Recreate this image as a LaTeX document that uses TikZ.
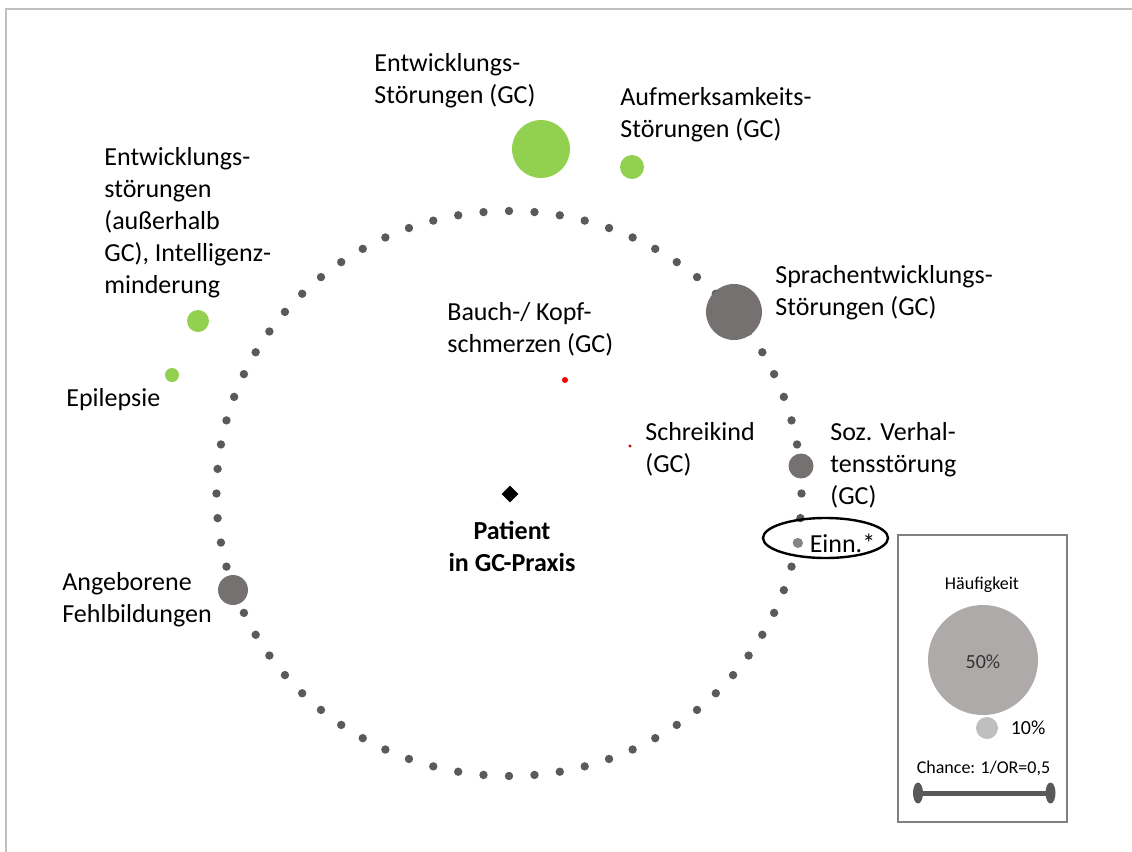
\documentclass[tikz,border=0pt]{standalone}
\usepackage{fontspec}
\setmainfont{Carlito}
\usetikzlibrary{positioning}
\usetikzlibrary{shapes.geometric}
\definecolor{dotgray}{HTML}{5A5A5A}
\definecolor{bubblegray}{HTML}{767171}
\definecolor{einngray}{HTML}{858585}
\definecolor{paleblob}{HTML}{AEAAAA}
\definecolor{lightblob}{HTML}{BFBFBF}
\definecolor{lightgreen}{HTML}{92D050}
\definecolor{framegray}{HTML}{BFBFBF}
\definecolor{boxgray}{HTML}{808080}
\definecolor{bargray}{HTML}{595959}
\definecolor{darkred}{HTML}{C00000}
\tikzset{
  bubble/.style={
    circle,
    inner sep=0,
    minimum size=#1,
  },
  ringdot/.style={
    bubble=4.2pt,
    fill=dotgray,
  },
  finding/.style={
    bubble=#1,
    fill=bubblegray,
  },
  greenfinding/.style={
    bubble=#1,
    fill=lightgreen,
  },
  caption/.style={
    inner sep=0,
    align=left,
    anchor=north west,
    font=\fontsize{13}{16}\selectfont,
  },
  legendtext/.style={
    inner sep=0,
    font=\fontsize{9}{11}\selectfont,
  },
  barend/.style={
    ellipse,
    fill=bargray,
    inner sep=0,
    minimum width=5pt,
    minimum height=10.5pt,
  }
}

\begin{document}
\begin{tikzpicture}[x=0.5pt,y=-0.5pt]
  \useasboundingbox (0,0) rectangle (1132,852);
  \draw [framegray, line width=1pt] (6,852) -- (6,9) -- (1132,9);

  % ring of dots round the patient
  \foreach \a in {0,5,...,355}
    \node (dot\a) [ringdot] at ({509+292.5*cos(\a)},{493.5-282.5*sin(\a)}) {};

  \node (entw gc)   [greenfinding=29pt] at (541,149) {};
  \node (aufm)      [greenfinding=12pt] at (632,167) {};
  \node (entw ext)  [greenfinding=11pt] at (198,321) {};
  \node (epilepsie) [greenfinding=7pt]  at (172,375) {};
  \node (sprache)   [finding=28pt]      at (734,312) {};
  \node (soz)       [finding=12.5pt]    at (801,466) {};
  \node (angeboren) [finding=15pt]      at (233,590) {};
  \node (einn)      [bubble=5pt, fill=einngray] at (798,543) {};
  \node (bauch)     [bubble=3pt, fill=red]      at (565,380) {};
  \node (schrei)    [bubble=1.6pt, fill=darkred] at (630,446) {};
  \node (patient)   [diamond, fill=black, inner sep=0, minimum size=8.5pt] at (510,494) {};

  \node (entw gc label)   [caption] at (374,53)  {Entwicklungs-\\Störungen (GC)};
  \node (aufm label)      [caption] at (620,87)  {Aufmerksamkeits-\\Störungen (GC)};
  \node (entw ext label)  [caption] at (104,147) {Entwicklungs-\\störungen\\(außerhalb\\GC), Intelligenz-\\minderung};
  \node (epilepsie label) [caption] at (66,388)  {Epilepsie};
  \node (bauch label)     [caption] at (447,302) {Bauch-/ Kopf-\\schmerzen (GC)};
  \node (sprache label)   [caption] at (775,265) {Sprachentwicklungs-\\Störungen (GC)};
  \node (schrei label)    [caption] at (645,422) {Schreikind\\(GC)};
  \node (soz label)       [caption] at (830,422) {Soz. Verhal-\\tensstörung\\(GC)};
  \node (angeboren label) [caption] at (62,572)  {Angeborene\\Fehlbildungen};
  \node (einn label)      [caption, anchor=west, right=3pt of einn] {Einn.*};
  \node (patient label)   [caption, align=center, anchor=north,
                           font=\fontsize{13}{16}\selectfont\bfseries] at (512,521) {Patient\\in GC-Praxis};

  \node (einn ring) [draw, ellipse, line width=1.2pt, inner sep=0,
                     minimum width=62.5pt, minimum height=20pt] at (825.5,538) {};

  % legend
  \node (legend) [draw=boxgray, line width=0.75pt, inner sep=0,
                  minimum width=84.5pt, minimum height=143.5pt] at (982.5,678.5) {};
  \node (freq label)  [legendtext] at (982,585) {Häufigkeit};
  \node (big blob)    [bubble=55pt, fill=paleblob] at (983,660) {};
  \node (big label)   [legendtext, font=\fontsize{10}{12}\selectfont, text=black!80] at (983,662) {50\%};
  \node (small blob)  [bubble=11pt, fill=lightblob] at (987,728) {};
  \node (small label) [legendtext, font=\fontsize{10}{12}\selectfont, right=6pt of small blob] {10\%};
  \node (chance label) [legendtext] at (983.5,768) {Chance: 1/OR=0,5};
  \node (bar left)  [barend] at (918,793) {};
  \node (bar right) [barend] at (1050.5,793) {};
  \draw [bargray, line width=2.5pt] (bar left.center) -- (bar right.center);
\end{tikzpicture}
\end{document}
